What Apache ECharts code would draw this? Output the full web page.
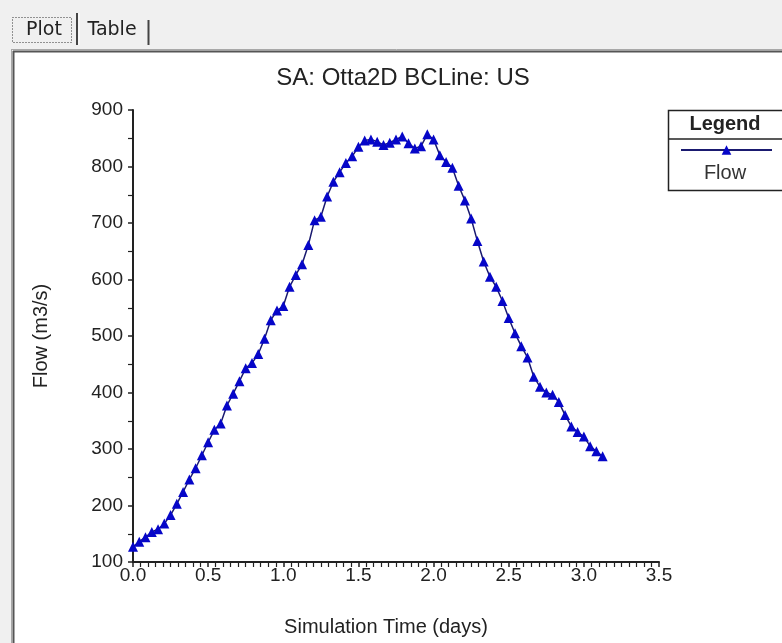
<!DOCTYPE html>
<html>
<head>
<meta charset="utf-8">
<script src="https://cdn.jsdelivr.net/npm/echarts@6/dist/echarts.min.js"></script>
<style>
html,body{margin:0;padding:0;background:#f0f0f0;}
#chart{width:782px;height:643px;}
</style>
</head>
<body>
<div id="chart"></div>
<script>
// Hourly flow values (m3/s), starting at t = 0 days
const flow = [
  127, 136, 144, 153, 158, 168, 183, 203, 224, 246,
  266, 289, 312, 334, 345, 377, 398, 420, 443, 452,
  468, 495, 528, 545, 553, 587, 608, 627, 661, 705,
  711, 747, 773, 790, 806, 818, 835, 846, 848, 844,
  838, 842, 848, 853, 841, 832, 836, 857, 848, 820,
  808, 798, 766, 740, 708, 668, 632, 605, 587, 562,
  532, 505, 482, 462, 428, 410, 400, 396, 383, 360,
  340, 330, 322, 305, 296, 287
];
const hoursPerDay = 24;
const timeDays = flow.map((_, i) => i / hoursPerDay);
const xTicks = [0, 0.5, 1.0, 1.5, 2.0, 2.5, 3.0, 3.5];
const yTicks = [100, 200, 300, 400, 500, 600, 700, 800, 900];
const seriesName = 'Flow';
const titleText = 'SA: Otta2D BCLine: US';
const xName = 'Simulation Time (days)';
const yName = 'Flow (m3/s)';
const tabs = ['Plot', 'Table'];

const chart = echarts.init(document.getElementById('chart'), null, {renderer: 'canvas'});
const font = '"Liberation Sans", Arial, sans-serif';
const tabFont = '"DejaVu Sans", Tahoma, sans-serif';

const option = {
  backgroundColor: '#f0f0f0',
  animation: false,
  title: {
    text: titleText,
    left: 403,
    top: 66,
    padding: 0,
    textAlign: 'center',
    textStyle: {fontFamily: font, fontSize: 24, fontWeight: 'normal', color: '#222'}
  },
  legend: {
    data: [seriesName],
    left: 680,
    top: 144,
    padding: 0,
    itemWidth: 91,
    itemHeight: 12,
    formatter: () => '',
    textStyle: {fontSize: 1}
  },
  grid: {left: 133, top: 110, width: 526, height: 452, containLabel: false},
  xAxis: {
    type: 'value',
    min: xTicks[0],
    max: xTicks[xTicks.length - 1],
    interval: 0.5,
    name: xName,
    nameLocation: 'middle',
    nameGap: 55,
    nameTextStyle: {fontFamily: font, fontSize: 20, color: '#222', padding: [0, 20, 0, 0]},
    axisLine: {show: true, onZero: false, lineStyle: {color: '#222', width: 2}},
    axisTick: {show: true, length: 5, lineStyle: {color: '#222', width: 1.5}},
    minorTick: {show: true, splitNumber: 10, length: 5, lineStyle: {color: '#222', width: 1.2}},
    splitLine: {show: false},
    axisLabel: {
      margin: 4, fontFamily: font, fontSize: 19, color: '#222',
      formatter: v => v.toFixed(1)
    }
  },
  yAxis: {
    type: 'value',
    min: yTicks[0],
    max: yTicks[yTicks.length - 1],
    interval: 100,
    name: yName,
    nameLocation: 'middle',
    nameGap: 82,
    nameRotate: 90,
    nameTextStyle: {fontFamily: font, fontSize: 20, color: '#222'},
    axisLine: {show: true, onZero: false, lineStyle: {color: '#222', width: 2}},
    axisTick: {show: true, length: 5, lineStyle: {color: '#222', width: 1.5}},
    minorTick: {show: true, splitNumber: 2, length: 5, lineStyle: {color: '#222', width: 1.2}},
    splitLine: {show: false},
    axisLabel: {margin: 10, fontFamily: font, fontSize: 19, color: '#222'}
  },
  series: [{
    name: seriesName,
    type: 'line',
    data: timeDays.map((t, i) => [t, flow[i]]),
    symbol: 'triangle',
    symbolSize: 10,
    showAllSymbol: true,
    lineStyle: {color: '#1a1a70', width: 1.5},
    itemStyle: {color: '#0606c8', borderWidth: 0}
  }],
  graphic: [
    // panel
    {type: 'rect', shape: {x: 13, y: 51, width: 780, height: 600}, style: {fill: '#fff'}, z: -10, silent: true},
    {type: 'line', shape: {x1: 11, y1: 49.5, x2: 782, y2: 49.5}, style: {stroke: '#a8a8a8', lineWidth: 1}, z: -5},
    {type: 'line', shape: {x1: 11.5, y1: 49, x2: 11.5, y2: 643}, style: {stroke: '#a8a8a8', lineWidth: 1}, z: -5},
    {type: 'line', shape: {x1: 13, y1: 51.5, x2: 782, y2: 51.5}, style: {stroke: '#555', lineWidth: 2}, z: -5},
    {type: 'line', shape: {x1: 13.5, y1: 51, x2: 13.5, y2: 643}, style: {stroke: '#555', lineWidth: 2}, z: -5},
    // tabs
    {type: 'rect', shape: {x: 12.5, y: 17.5, width: 59, height: 25}, style: {fill: 'none', stroke: '#333', lineWidth: 1, lineDash: [1, 2]}},
    {type: 'text', x: 44, y: 40, style: {text: tabs[0], font: '19px ' + tabFont, fill: '#222', textAlign: 'center', textVerticalAlign: 'bottom'}},
    {type: 'line', shape: {x1: 77, y1: 13, x2: 77, y2: 45}, style: {stroke: '#444', lineWidth: 2}},
    {type: 'line', shape: {x1: 79, y1: 13, x2: 79, y2: 45}, style: {stroke: '#ffffff', lineWidth: 1}},
    {type: 'text', x: 112, y: 40, style: {text: tabs[1], font: '19px ' + tabFont, fill: '#222', textAlign: 'center', textVerticalAlign: 'bottom'}},
    {type: 'line', shape: {x1: 148.5, y1: 20, x2: 148.5, y2: 45}, style: {stroke: '#444', lineWidth: 2}},
    // legend box
    {type: 'rect', shape: {x: 668.5, y: 110.5, width: 130, height: 80}, style: {fill: '#fff', stroke: '#222', lineWidth: 1.5}, z: 1},
    {type: 'line', shape: {x1: 668.5, y1: 139, x2: 782, y2: 139}, style: {stroke: '#222', lineWidth: 1.5}, z: 2},
    {type: 'text', x: 725, y: 124, style: {text: 'Legend', font: 'bold 20px ' + font, fill: '#222', textAlign: 'center', textVerticalAlign: 'middle'}, z: 2},
    {type: 'text', x: 725, y: 173, style: {text: seriesName, font: '20px ' + font, fill: '#333', textAlign: 'center', textVerticalAlign: 'middle'}, z: 2}
  ]
};
chart.setOption(option);
</script>
</body>
</html>
